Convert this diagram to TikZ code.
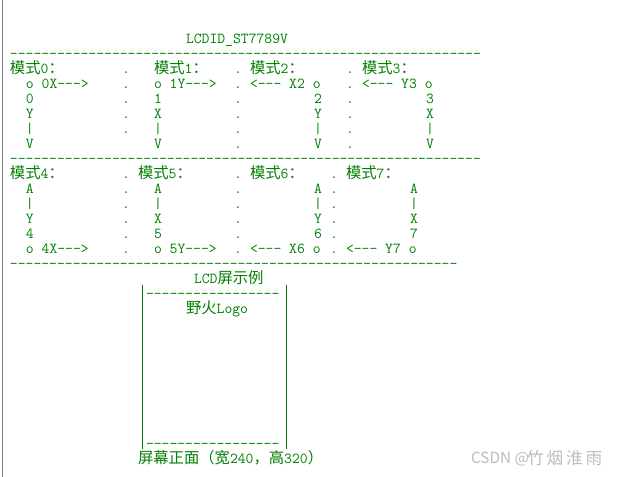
\documentclass[tikz,border=0pt]{standalone}
\usepackage{fontspec}
\newfontfamily\cjkf{Noto Sans CJK SC}
\newfontfamily\wmf{Noto Sans CJK SC}[LetterSpace=17]
\definecolor{codegreen}{HTML}{008000}
\definecolor{wmgray}{HTML}{BDBDBD}
\definecolor{margingray}{HTML}{808080}
\newcommand{\zh}[1]{{\cjkf\fontsize{11.5}{11.5}\selectfont #1}}
\tikzset{
  txt/.style={anchor=base west, inner sep=0pt, outer sep=0pt, text=codegreen,
    font=\ttfamily\fontsize{11.43}{11.43}\selectfont},
  boxside/.style={draw=codegreen, line width=0.75pt},
  margin/.style={draw=margingray, line width=0.75pt},
  wmark/.style={anchor=base west, inner sep=0pt, outer sep=0pt, text=wmgray}
}
\newcommand{\Tx}[4]{\node[txt] (#1) at ({10+8*#2},{43.5+15*#3}) {#4};}
\begin{document}
\begin{tikzpicture}[x=0.75pt,y=-0.75pt]
\useasboundingbox (0,0) rectangle (622,477);
\fill[white] (0,0) rectangle (622,477);
\draw[margin] (2.3,0) -- (2.3,477);
% title
\Tx{title}{22}{0}{LCDID\_ST7789V}
\Tx{dashA}{0}{1}{------------------------------------------------------------}
% modes 0-3
\Tx{m0}{0}{2}{\zh{模式}0\zh{：}}
\Tx{m1}{18}{2}{\zh{模式}1\zh{：}}
\Tx{m2}{30}{2}{\zh{模式}2\zh{：}}
\Tx{m3}{44}{2}{\zh{模式}3\zh{：}}
\Tx{a03}{2}{3}{o 0X--->}
\Tx{a13}{18}{3}{o 1Y--->}
\Tx{a23}{30}{3}{<--- X2 o}
\Tx{a33}{44}{3}{<--- Y3 o}
\Tx{a04}{2}{4}{0}
\Tx{a14}{18}{4}{1}
\Tx{a24}{38}{4}{2}
\Tx{a34}{52}{4}{3}
\Tx{a05}{2}{5}{Y}
\Tx{a15}{18}{5}{X}
\Tx{a25}{38}{5}{Y}
\Tx{a35}{52}{5}{X}
\Tx{a06}{2}{6}{|}
\Tx{a16}{18}{6}{|}
\Tx{a26}{38}{6}{|}
\Tx{a36}{52}{6}{|}
\Tx{a07}{2}{7}{V}
\Tx{a17}{18}{7}{V}
\Tx{a27}{38}{7}{V}
\Tx{a37}{52}{7}{V}
\foreach \r in {2,...,6} {\Tx{da\r}{14}{\r}{.}}
\foreach \r in {2,...,7} {\Tx{db\r}{28}{\r}{.}\Tx{dc\r}{42}{\r}{.}}
\Tx{dashB}{0}{8}{------------------------------------------------------------}
% modes 4-7
\Tx{m4}{0}{9}{\zh{模式}4\zh{：}}
\Tx{m5}{16}{9}{\zh{模式}5\zh{：}}
\Tx{m6}{30}{9}{\zh{模式}6\zh{：}}
\Tx{m7}{42}{9}{\zh{模式}7\zh{：}}
\Tx{b40}{2}{10}{A}
\Tx{b50}{18}{10}{A}
\Tx{b60}{38}{10}{A}
\Tx{b70}{50}{10}{A}
\Tx{b41}{2}{11}{|}
\Tx{b51}{18}{11}{|}
\Tx{b61}{38}{11}{|}
\Tx{b71}{50}{11}{|}
\Tx{b42}{2}{12}{Y}
\Tx{b52}{18}{12}{X}
\Tx{b62}{38}{12}{Y}
\Tx{b72}{50}{12}{X}
\Tx{b43}{2}{13}{4}
\Tx{b53}{18}{13}{5}
\Tx{b63}{38}{13}{6}
\Tx{b73}{50}{13}{7}
\Tx{b44}{2}{14}{o 4X--->}
\Tx{b54}{18}{14}{o 5Y--->}
\Tx{b64}{30}{14}{<--- X6 o}
\Tx{b74}{42}{14}{<--- Y7 o}
\foreach \r in {9,...,14} {\Tx{ea\r}{14}{\r}{.}\Tx{eb\r}{28}{\r}{.}\Tx{ec\r}{40}{\r}{.}}
\Tx{dashC}{0}{15}{---------------------------------------------------------}
% LCD example
\Tx{lcd}{23}{16}{LCD\zh{屏示例}}
\Tx{boxtop}{17}{17}{-----------------}
\Tx{logo}{22}{18}{\zh{野火}Logo}
\Tx{boxbot}{17}{27}{-----------------}
\Tx{front}{16}{28}{\zh{屏幕正面（宽}240\zh{，高}320\zh{）}}
\coordinate (lt) at (142,285);
\coordinate (lb) at (142,449);
\coordinate (rt) at (286,285);
\coordinate (rb) at (286,449);
\draw[boxside] (lt) -- (lb);
\draw[boxside] (rt) -- (rb);
% watermark
\node[wmark, font=\cjkf\fontsize{11.5}{11.5}\selectfont] (wm1) at (471,464) {CSDN @};
\node[wmark, font=\wmf\fontsize{12.5}{12.5}\selectfont] (wm2) at (527,465) {竹烟淮雨};
\end{tikzpicture}
\end{document}
